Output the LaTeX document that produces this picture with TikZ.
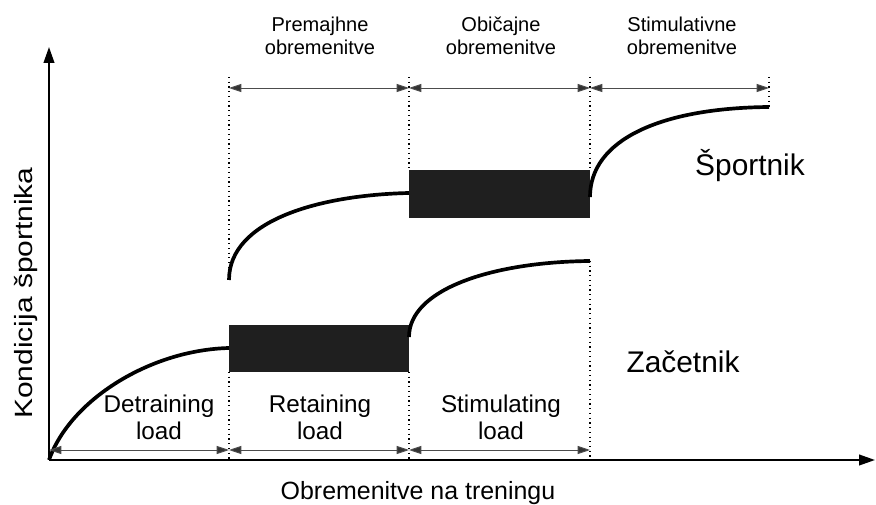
\documentclass[tikz,border=0pt]{standalone}
\usepackage{fontspec}
\setmainfont{Liberation Sans}
\usetikzlibrary{arrows.meta}

\tikzset{
	axisarrow/.style={line width=1.1pt, -{Triangle[length=9pt,width=6pt]}},
	dimarrow/.style={line width=0.55pt, draw=black!70, {Triangle[length=7pt,width=4.6pt,fill=black!80]}-{Triangle[length=7pt,width=4.6pt,fill=black!80]}},
	guide/.style={dotted, line width=0.7pt},
	loadcurve/.style={line width=2.1pt},
	block/.style={fill=black!88},
	toplabel/.style={align=center, font=\fontsize{11.4}{13}\selectfont},
	loadlabel/.style={align=center, font=\fontsize{13.8}{15.3}\selectfont},
	groupname/.style={font=\fontsize{17}{20}\selectfont},
	axislabel/.style={font=\fontsize{14.2}{17}\selectfont}
}

\begin{document}
\begin{tikzpicture}[x=0.02cm, y=0.02cm]
			\useasboundingbox (0,0) rectangle (876,504);
			
			\coordinate (o) at (49,44);
			\coordinate (ytop) at (49,457);
			\coordinate (xend) at (875,44);
			
			\coordinate (t1) at (229,416);
			\coordinate (t2) at (409,416);
			\coordinate (t3) at (590,416);
			\coordinate (t4) at (769,416);
			\coordinate (b0) at (49,54);
			\coordinate (b1) at (229,54);
			\coordinate (b2) at (409,54);
			\coordinate (b3) at (590,54);
			
			\draw[guide] (229,427) -- (229,224);
			\draw[guide] (229,132) -- (229,44);
			\draw[guide] (409,427) -- (409,334);
			\draw[guide] (409,132) -- (409,44);
			\draw[guide] (590,427) -- (590,334);
			\draw[guide] (590,243) -- (590,44);
			\draw[guide] (769,427) -- (769,397);
			
			\fill[block] (229,132) rectangle (409,179);
			\fill[block] (409,286) rectangle (590,334);
			
			\draw[loadcurve] (o) .. controls (70,104) and (150,154) .. (229,156);
			\draw[loadcurve] (409,167) .. controls (409,214) and (490,242) .. (590,243);
			\draw[loadcurve] (229,224) .. controls (229,284) and (320,309) .. (409,311);
			\draw[loadcurve] (590,307) .. controls (590,364) and (660,396) .. (769,397);
			
			\draw[axisarrow] (o) -- (ytop);
			\draw[axisarrow] (o) -- (xend);
			
			\draw[dimarrow] (t1) -- (t2);
			\draw[dimarrow] (t2) -- (t3);
			\draw[dimarrow] (t3) -- (t4);
			\draw[dimarrow] (b0) -- (b1);
			\draw[dimarrow] (b1) -- (b2);
			\draw[dimarrow] (b2) -- (b3);
			
			\node[toplabel] (premajhne) at (320,468) {Premajhne\\obremenitve};
			\node[toplabel] (obicajne) at (501,468) {Običajne\\obremenitve};
			\node[toplabel] (stimulativne) at (682,468) {Stimulativne\\obremenitve};
			\node[loadlabel] (detraining) at (159,87) {Detraining\\load};
			\node[loadlabel] (retaining) at (320,87) {Retaining\\load};
			\node[loadlabel] (stimulating) at (501,87) {Stimulating\\load};
			\node[groupname] (sportnik) at (750,338) {Športnik};
			\node[groupname] (zacetnik) at (683,142) {Začetnik};
			\node[axislabel] (xlabel) at (418,11) {Obremenitve na treningu};
			\node[axislabel, rotate=90] (ylabel) at (26,211) {\scalebox{1.2}[1]{Kondicija športnika}};
		\end{tikzpicture}
\end{document}
